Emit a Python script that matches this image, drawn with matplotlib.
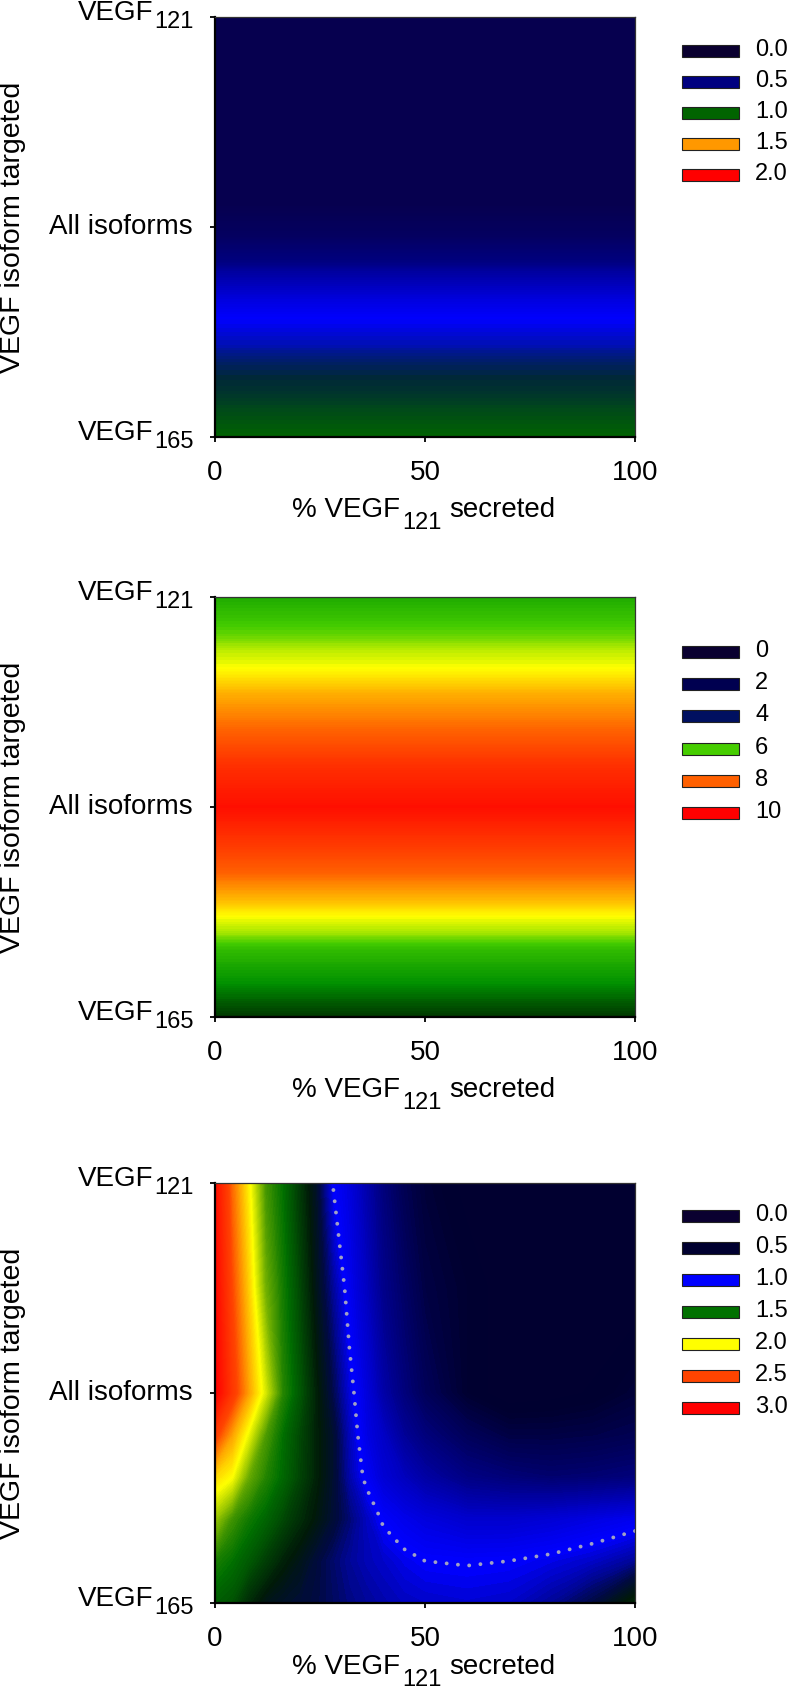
import numpy as np
import matplotlib
matplotlib.use('Agg')
import matplotlib.pyplot as plt
from matplotlib.colors import LinearSegmentedColormap, Normalize
from matplotlib.patches import Rectangle
from matplotlib.transforms import offset_copy

plt.rcParams['font.family'] = ['Liberation Sans', 'DejaVu Sans']

W, H = 793, 1696

# y axis: 0 = VEGF165 targeted, 0.5 = all isoforms, 1 = VEGF121 targeted
x_ticks = [0, 50, 100]
y_ticks = [0.0, 0.5, 1.0]

# panel 1 (no x dependence)
y1 = [0.0, 0.06, 0.11, 0.17, 0.22, 0.28, 0.33, 0.40, 0.48, 0.55, 1.0]
v1 = [1.0, 0.95, 0.90, 0.86, 0.80, 0.75, 0.68, 0.55, 0.30, 0.20, 0.20]
levels1 = [0.0, 0.5, 1.0, 1.5, 2.0]
cnodes1 = [(0.0, '#0a0030'), (0.5, '#000080'), (0.75, '#0000ff'), (0.88, '#002838'),
           (1.0, '#006400'), (1.5, '#ff9900'), (2.0, '#ff0000')]

# panel 2 (no x dependence)
y2 = [0.0, 0.04, 0.08, 0.16, 0.2, 0.24, 0.27, 0.32, 0.4, 0.5, 0.6, 0.68, 0.77, 0.83, 0.87, 0.91, 1.0]
v2 = [4.68, 4.97, 5.3, 5.8, 6.3, 6.6, 7.1, 7.7, 8.7, 9.7, 9.0, 8.0, 7.3, 6.6, 6.4, 6.1, 5.6]
levels2 = [0, 2, 4, 6, 8, 10]
cnodes2 = [(0, '#0a0030'), (2, '#000050'), (4, '#001060'), (4.6, '#002a00'), (5.3, '#009000'),
           (6, '#44cc00'), (6.6, '#ffff00'), (8, '#ff6000'), (10, '#ff0000')]

# panel 3
x3 = [0, 4, 8, 12, 16, 20, 24, 28, 32, 36, 40, 45, 50, 60, 70, 80, 90, 100]
y3 = [0.0, 0.1, 0.2, 0.3, 0.4, 0.5, 0.75, 1.0]
v3_y00 = [1.45, 1.42, 1.32, 1.25, 1.22, 1.20, 1.18, 1.15, 1.12, 1.10, 1.08, 1.06, 1.05, 1.04, 1.05, 1.10, 1.18, 1.32]
v3_y10 = [1.55, 1.50, 1.44, 1.37, 1.30, 1.25, 1.19, 1.14, 1.10, 1.07, 1.05, 1.02, 1.00, 0.995, 1.00, 1.02, 1.05, 1.10]
v3_y20 = [1.80, 1.62, 1.53, 1.47, 1.40, 1.33, 1.27, 1.20, 1.13, 1.06, 0.99, 0.95, 0.92, 0.88, 0.88, 0.90, 0.93, 0.96]
v3_y30 = [2.10, 2.00, 1.70, 1.57, 1.48, 1.39, 1.30, 1.21, 1.08, 0.98, 0.90, 0.84, 0.78, 0.70, 0.67, 0.65, 0.66, 0.68]
v3_y40 = [2.55, 2.25, 1.96, 1.65, 1.50, 1.40, 1.30, 1.21, 1.06, 0.94, 0.86, 0.75, 0.68, 0.60, 0.55, 0.55, 0.56, 0.58]
v3_y50 = [3.00, 2.60, 2.25, 1.92, 1.58, 1.44, 1.30, 1.17, 1.03, 0.92, 0.79, 0.68, 0.60, 0.50, 0.45, 0.46, 0.48, 0.52]
v3_y75 = [2.95, 2.50, 2.13, 1.72, 1.54, 1.40, 1.25, 1.10, 0.96, 0.85, 0.72, 0.63, 0.55, 0.50, 0.45, 0.44, 0.44, 0.45]
v3_y100 = [2.90, 2.40, 2.03, 1.63, 1.50, 1.36, 1.22, 1.00, 0.92, 0.80, 0.68, 0.58, 0.52, 0.46, 0.44, 0.43, 0.43, 0.44]
levels3 = [0.0, 0.5, 1.0, 1.5, 2.0, 2.5, 3.0]
cnodes3 = [(0.0, '#0a0030'), (0.5, '#000030'), (1.0, '#0000ff'), (1.18, '#000a40'), (1.28, '#001a08'),
           (1.5, '#007000'), (2.0, '#ffff00'), (2.5, '#ff4400'), (3.0, '#ff0000')]


def make_cmap(nodes):
    lo, hi = nodes[0][0], nodes[-1][0]
    cm = LinearSegmentedColormap.from_list('c', [((v - lo) / (hi - lo), c) for v, c in nodes], N=512)
    return cm, Normalize(lo, hi)


fig = plt.figure(figsize=(W / 100, H / 100), dpi=100)


def panel(top, x, y, z, nodes, levels, fmt, leg_y0, leg_dy, xlab_drop=92):
    ax = fig.add_axes([215 / W, 1 - (top + 420) / H, 420 / W, 420 / H])
    cmap, norm = make_cmap(nodes)
    ax.contourf(x, y, z, levels=np.linspace(norm.vmin, norm.vmax, 241),
                cmap=cmap, norm=norm, antialiased=False)
    ax.set_xlim(0, 100)
    ax.set_ylim(0, 1)
    ax.set_xticks(x_ticks)
    ax.set_xticklabels([str(t) for t in x_ticks])
    ax.set_yticks(y_ticks)
    ax.set_yticklabels(['', '', ''])
    ax.tick_params(direction='out', length=3.6, width=1.3, labelsize=20, pad=13)
    for s in ['left', 'bottom']:
        ax.spines[s].set_linewidth(1.6)
    for s in ['top', 'right']:
        ax.spines[s].set_linewidth(0.9)
        ax.spines[s].set_color('#333333')

    # y tick labels with subscripts
    for t, sub in [(1.0, '121'), (0.0, '165')]:
        tr = offset_copy(ax.get_yaxis_transform(), fig=fig, x=-21, y=-5, units='dots')
        s = ax.text(0, t, sub, transform=tr, ha='right', va='center', fontsize=17)
        ax.annotate('VEGF', xy=(0, 0.5), xycoords=s, xytext=(-1, 9), textcoords='offset pixels',
                    ha='right', va='center', fontsize=20)
    ax.text(0, 0.5, 'All isoforms', transform=offset_copy(ax.get_yaxis_transform(), fig=fig, x=-22, units='dots'),
            ha='right', va='center', fontsize=20)

    # x label
    s = ax.text(0.5, 0, '121', transform=offset_copy(ax.transAxes, fig=fig, x=-3, y=-xlab_drop, units='dots'),
                ha='center', va='baseline', fontsize=17)
    ax.annotate('% VEGF', xy=(0, 0), xycoords=s, xytext=(-2, 17), textcoords='offset pixels',
                ha='right', va='baseline', fontsize=20)
    ax.annotate('secreted', xy=(1, 0), xycoords=s, xytext=(8, 17), textcoords='offset pixels',
                ha='left', va='baseline', fontsize=20)

    # y label
    ax.text(0, 0.5, 'VEGF isoform targeted', transform=offset_copy(ax.transAxes, fig=fig, x=-202, units='dots'),
            rotation=90, ha='center', va='center', fontsize=20.5)

    # level legend
    for i, lv in enumerate(levels):
        yc = leg_y0 + i * leg_dy
        fig.add_artist(Rectangle((682 / W, 1 - (yc + 6) / H), 57 / W, 12 / H, transform=fig.transFigure,
                                 facecolor=cmap(norm(lv)), edgecolor='#222222', linewidth=0.8))
        fig.text(755 / W, 1 - (yc - 1) / H, fmt.format(lv), ha='left', va='center', fontsize=17)
    return ax


panel(17, [0, 100], y1, np.column_stack([v1, v1]), cnodes1, levels1, '{:.1f}', 51, 31)
panel(597, [0, 100], y2, np.column_stack([v2, v2]), cnodes2, levels2, '{:d}', 652, 32.2)
z3 = np.array([v3_y00, v3_y10, v3_y20, v3_y30, v3_y40, v3_y50, v3_y75, v3_y100])
ax3 = panel(1183, x3, y3, z3, cnodes3, levels3, '{:.1f}', 1216, 32, xlab_drop=83)
cs = ax3.contour(x3, y3, z3, levels=[1.0], colors='#a0a0c4', linewidths=2.8,
                 linestyles=[(0, (0.01, 2.9))])
cs.set_capstyle('round')

fig.savefig('out.png', dpi=100)
